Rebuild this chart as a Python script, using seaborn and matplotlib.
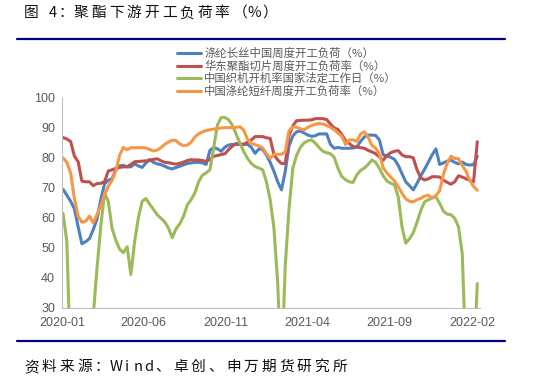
import matplotlib
matplotlib.use("Agg")
import matplotlib.pyplot as plt
from matplotlib.lines import Line2D
import pandas as pd
import seaborn as sns

# weekly dates, first Friday of 2020 to mid Feb 2022
dates = pd.date_range("2020-01-03", periods=111, freq="7D")

filament = [
    69.5, 67.5, 65.5, 63.0, 57.0, 51.3, 52.0, 53.0, 56.0, 59.5,
    66.0, 71.3, 72.5, 73.0, 76.0, 77.3, 77.5, 77.0, 77.0, 78.0,
    77.3, 76.8, 78.3, 79.5, 78.5, 78.0, 77.7, 77.2, 76.6, 76.3,
    76.8, 77.2, 77.7, 78.1, 78.3, 78.5, 78.5, 78.3, 77.8, 82.5,
    83.5, 83.0, 82.2, 83.6, 84.3, 84.5, 84.5, 84.5, 84.5, 84.5,
    83.5, 81.5, 83.0, 82.8, 81.0, 78.5, 75.5, 72.0, 69.3, 75.5,
    84.0, 87.3, 88.7, 89.0, 88.3, 87.6, 87.2, 87.4, 88.0, 88.0,
    88.0, 84.5, 83.2, 83.5, 83.2, 83.2, 83.2, 83.3, 83.6, 85.5,
    87.0, 87.6, 87.6, 87.5, 86.0, 81.0, 80.6, 80.2, 79.5, 77.5,
    74.7, 72.0, 70.7, 69.3, 71.5, 74.0, 76.2, 78.6, 81.0, 83.0,
    77.8, 78.3, 78.9, 79.2, 78.5, 78.0, 78.6, 77.8, 77.6, 77.7,
    80.5,
]
chips = [
    86.8, 86.3, 85.5, 80.6, 78.7, 72.2, 72.0, 72.0, 70.7, 71.4,
    71.5, 72.0, 75.6, 76.0, 76.5, 76.8, 77.0, 77.0, 77.8, 78.7,
    78.8, 78.9, 79.0, 79.1, 79.5, 79.7, 79.0, 78.5, 78.4, 78.1,
    77.9, 78.2, 78.6, 79.1, 79.4, 79.3, 79.3, 79.1, 78.8, 79.6,
    80.5, 80.8, 81.1, 81.4, 82.8, 84.0, 84.8, 84.5, 84.6, 85.2,
    86.0, 87.1, 87.1, 87.1, 86.7, 86.5, 81.0, 79.3, 78.1, 78.1,
    87.5, 90.7, 92.4, 92.5, 92.6, 92.6, 92.7, 93.1, 93.1, 93.1,
    92.8, 91.3, 90.0, 89.5, 87.8, 85.8, 84.8, 83.8, 83.6, 83.4,
    83.2, 82.5, 82.0, 81.4, 80.3, 79.2, 80.8, 81.7, 82.2, 82.4,
    81.0, 80.4, 80.4, 80.0, 76.0, 73.3, 72.6, 73.0, 73.7, 73.7,
    73.6, 72.6, 71.8, 71.2, 72.0, 74.0, 73.6, 73.0, 72.5, 72.0,
    85.4,
]
looms = [
    61.5, 52.0, 10.0, 6.0, 4.0, 4.0, 7.0, 12.0, 27.0, 43.0,
    57.0, 68.3, 65.5, 56.5, 52.5, 49.5, 48.3, 50.3, 41.0, 52.0,
    60.0, 65.5, 66.4, 64.5, 62.8, 61.0, 59.8, 58.6, 56.5, 53.3,
    56.3, 58.0, 60.5, 64.3, 66.0, 68.3, 72.0, 74.2, 75.0, 76.0,
    83.5, 91.0, 93.5, 93.5, 92.7, 90.8, 87.8, 84.8, 82.0, 79.8,
    78.1, 77.1, 76.6, 76.0, 72.0, 66.0, 56.5, 38.0, 8.0, 44.0,
    63.0, 76.5, 80.8, 83.5, 85.0, 85.7, 86.0, 84.9, 83.4, 82.2,
    81.7, 81.4, 80.2, 76.5, 73.8, 72.7, 72.0, 71.8, 74.3, 75.8,
    76.6, 77.8, 79.3, 78.5, 76.5, 74.0, 72.3, 71.5, 71.0, 67.0,
    57.0, 51.5, 53.0, 55.0, 58.5, 62.5, 65.3, 66.0, 66.6, 67.0,
    64.8, 62.2, 61.2, 61.0, 59.8, 57.0, 48.0, 12.0, 5.0, 10.0,
    38.0,
]
staple = [
    80.0, 78.5, 75.0, 66.5, 60.5, 58.5, 58.8, 60.5, 58.3, 61.0,
    64.0, 67.6, 70.5, 72.5, 75.5, 80.8, 83.5, 82.7, 83.4, 83.4,
    83.4, 83.4, 83.3, 82.8, 82.3, 82.6, 83.4, 84.5, 85.3, 85.9,
    85.8, 84.6, 84.1, 84.3, 85.2, 87.0, 88.0, 88.7, 89.1, 89.4,
    89.6, 89.8, 90.0, 90.1, 90.1, 90.1, 90.2, 90.4, 89.2, 86.2,
    84.8, 84.4, 84.0, 83.3, 81.5, 79.8, 81.2, 81.2, 81.2, 82.0,
    89.0, 90.4, 90.2, 89.7, 89.4, 90.2, 90.8, 91.2, 91.5, 91.3,
    90.8, 90.2, 89.4, 88.3, 87.3, 84.5, 86.0, 86.0, 85.5, 88.0,
    88.7, 87.0, 84.2, 83.3, 81.3, 76.7, 75.0, 73.6, 72.3, 70.3,
    68.2, 66.3, 65.5, 65.3, 66.0, 66.5, 67.2, 67.5, 66.6, 67.4,
    69.0, 74.5, 78.2, 80.5, 79.8, 79.7, 77.5, 75.5, 72.5, 70.5,
    69.2,
]

series_names = [
    "涤纶长丝中国周度开工负荷（%）",
    "华东聚酯切片周度开工负荷率（%）",
    "中国织机开机率国家法定工作日（%）",
    "中国涤纶短纤周度开工负荷率（%）",
]
colors = ["#4F81BD", "#C0504D", "#9BBB59", "#F79646"]

tick_dates = pd.to_datetime(["2020-01-01", "2020-06-01", "2020-11-01",
                             "2021-04-01", "2021-09-01", "2022-02-01"])
tick_labels = ["2020-01", "2020-06", "2020-11", "2021-04", "2021-09", "2022-02"]
y_ticks = [30, 40, 50, 60, 70, 80, 90, 100]

title = "图 4：聚酯下游开工负荷率（%）"
source = "资料来源：Wind、卓创、申万期货研究所"

df = pd.DataFrame({"date": dates, series_names[0]: filament, series_names[1]: chips,
                   series_names[2]: looms, series_names[3]: staple})
long_df = df.melt(id_vars="date", var_name="series", value_name="value")

sns.set_theme(style="white")
plt.rcParams["font.family"] = ["Liberation Sans", "Noto Sans CJK SC"]

W, H = 533, 382
fig = plt.figure(figsize=(W / 100, H / 100), dpi=100)
ax = fig.add_axes([62 / W, (H - 307.5) / H, 418 / W, 209.5 / H])

sns.lineplot(data=long_df, x="date", y="value", hue="series", hue_order=series_names,
             palette=colors, linewidth=2.2, ax=ax, legend=False)

ax.set_ylim(30, 100)
ax.set_xlim(pd.Timestamp("2020-01-01"), pd.Timestamp("2022-02-16"))
ax.set_yticks(y_ticks)
ax.set_xticks(tick_dates)
ax.set_xticklabels(tick_labels)
ax.set_xlabel("")
ax.set_ylabel("")
for s in ["top", "right"]:
    ax.spines[s].set_visible(False)
for s in ["left", "bottom"]:
    ax.spines[s].set_color("#BFBFBF")
    ax.spines[s].set_linewidth(0.8)
ax.tick_params(axis="x", direction="in", length=3.5, width=0.8, color="#BFBFBF",
               pad=7, labelsize=9, labelcolor="#595959")
ax.tick_params(axis="y", length=0, pad=5, labelsize=9, labelcolor="#595959")

handles = [Line2D([], [], color=c, lw=2.2) for c in colors]
ax.legend(handles, series_names, loc="upper left", bbox_to_anchor=(177 / W, 1 - 48 / H),
          bbox_transform=fig.transFigure, frameon=False, borderpad=0, borderaxespad=0,
          handlelength=2.15, handletextpad=0.25, labelspacing=0.1,
          prop={"family": "Noto Sans CJK SC", "size": 8.2}, labelcolor="#595959")


def spaced_text(x0, y, text, full=17.6, half=10.8, widths=None, **kw):
    # draw text char by char to mimic the wide letter spacing of the report
    widths = widths or {}
    x = x0
    for ch in text:
        w = widths.get(ch, full if ord(ch) > 0x2000 else half)
        if ch != " ":
            fig.text((x + w / 2) / W, 1 - y / H, ch, ha="center", va="center",
                     family=["Noto Sans CJK SC"], **kw)
        x += w


spaced_text(22.7, 13.3, title, widths={" ": 7.4, "：": 14, "%": 12},
            fontsize=10.6, color="#111111")
spaced_text(22.7, 367, source, full=17.66, half=10.8, fontsize=10.6, color="#111111")

for yy in [38.5, 341]:
    fig.add_artist(Line2D([17 / W, 505 / W], [1 - yy / H] * 2, color="#000080", lw=1.6))

fig.savefig("out.png", dpi=100)
